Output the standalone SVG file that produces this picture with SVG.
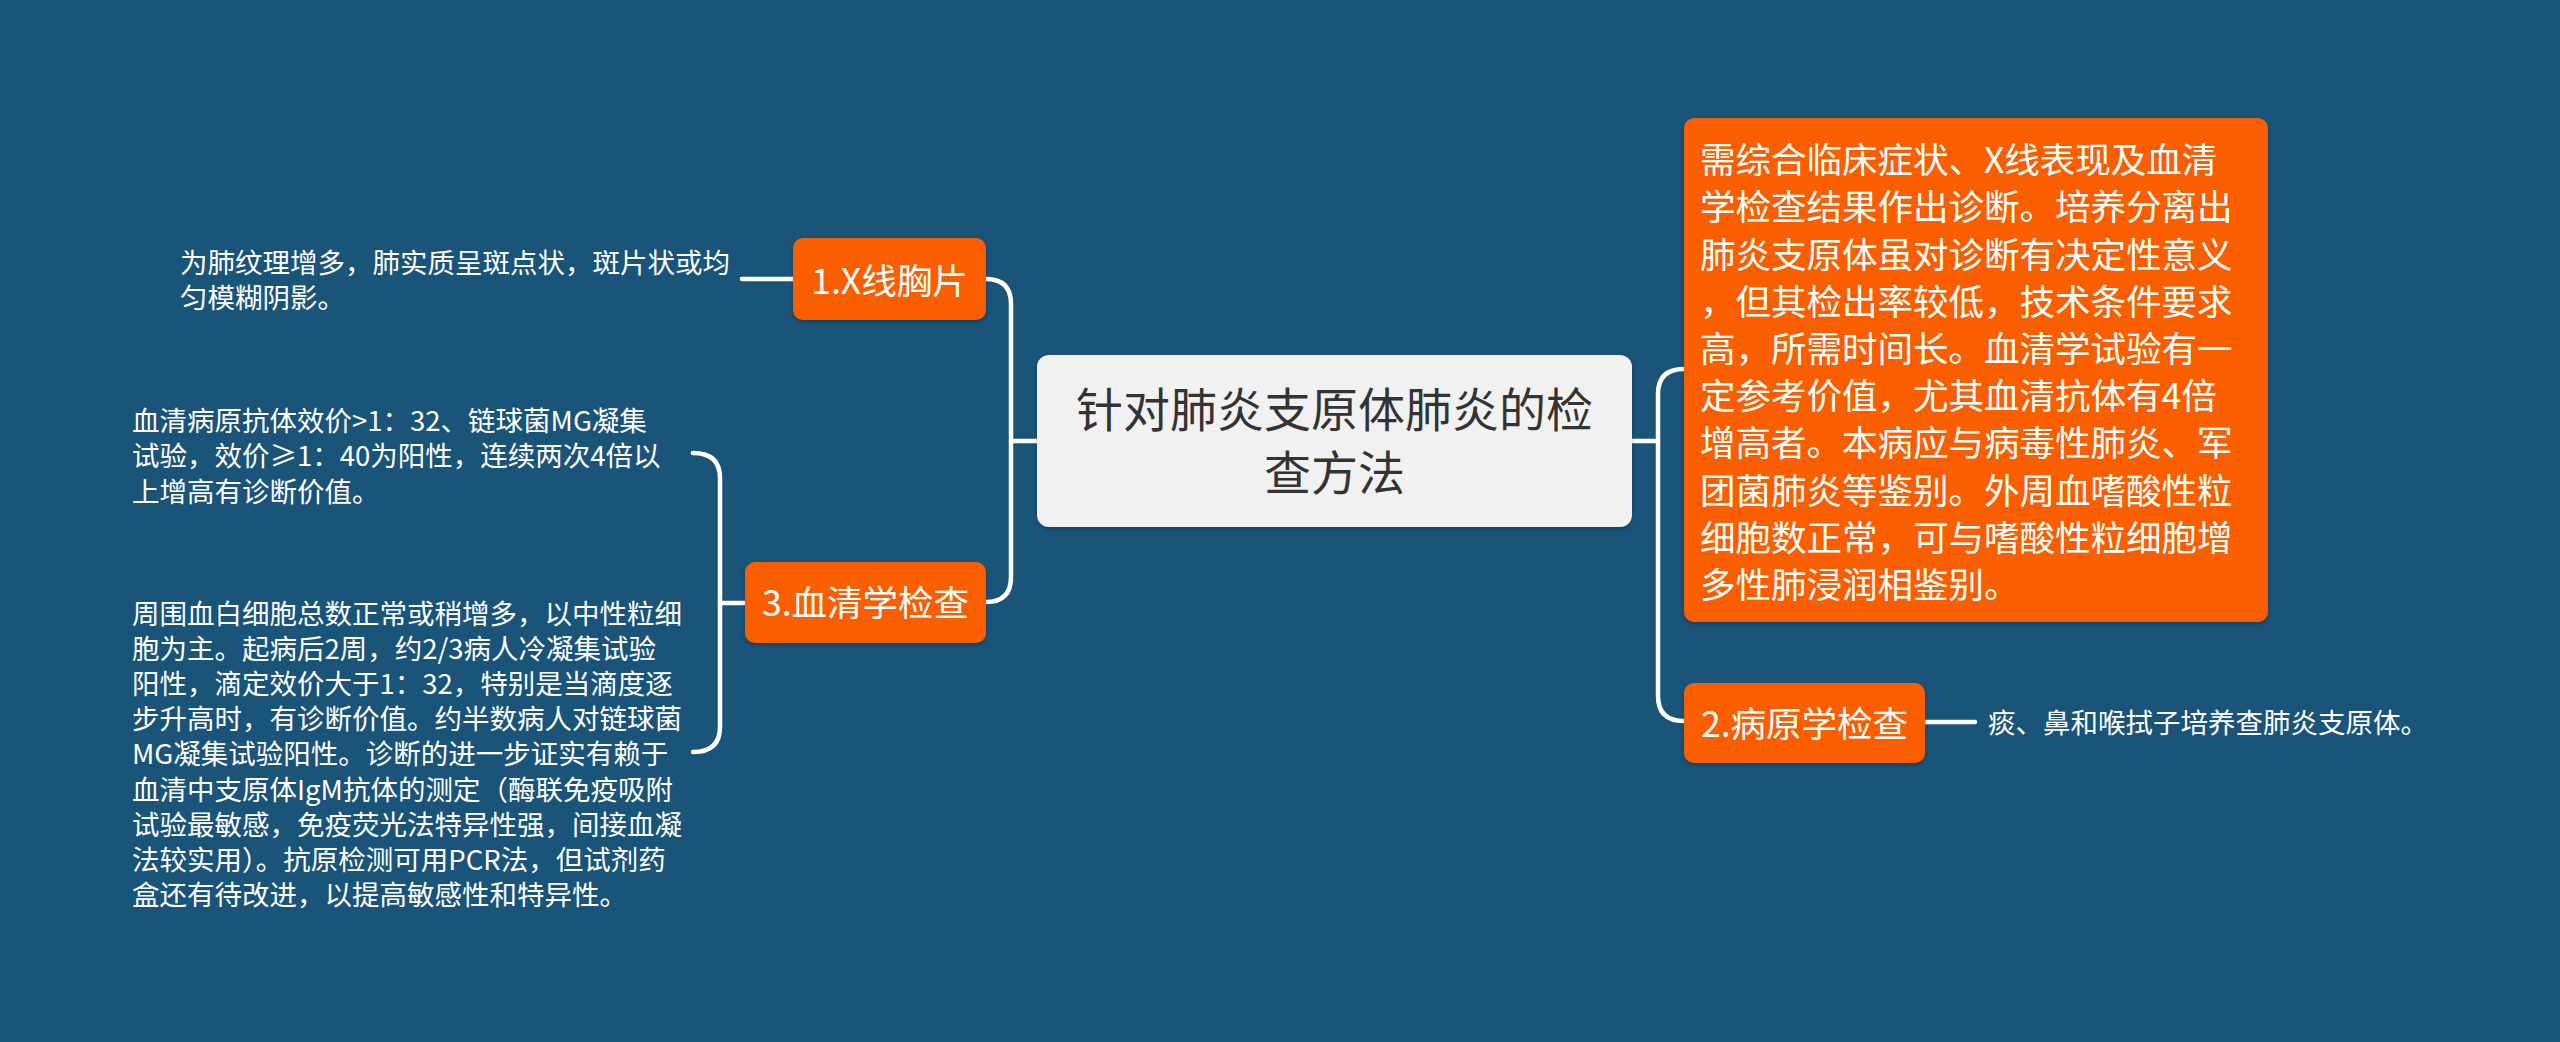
<svg xmlns="http://www.w3.org/2000/svg" width="2560" height="1042" viewBox="0 0 2560 1042">
<defs>
<style>
text{font-family:"Noto Sans CJK SC","Noto Sans",sans-serif;}
.root{fill:#f1f1f1;}
.main{fill:#f95f04;}
.rt{font-size:47px;fill:#333333;text-anchor:middle;}
.mt{font-size:35.5px;fill:#ffffff;}
.mc{text-anchor:middle;}
.lt{font-size:27.5px;fill:#ffffff;}
.conn path{fill:none;stroke:#ffffff;stroke-width:4.5;stroke-linecap:round;}
</style>
<filter id="sh" x="-10%" y="-10%" width="120%" height="130%">
<feDropShadow dx="0" dy="2" stdDeviation="2" flood-color="#000000" flood-opacity="0.25"/>
</filter>
</defs>
<rect x="0" y="0" width="2560" height="1042" fill="#1a5479"/>
<g class="conn" id="connectors">
<path d="M986,279 Q1011,279 1011,304 V577 Q1011,602 986,602"/>
<path d="M1011,441 H1037"/>
<path d="M1684,369 Q1658,369 1658,394 V696 Q1658,721 1684,721"/>
<path d="M1632,441 H1658"/>
<path d="M693,453 Q720,453 720,478 V727 Q720,752 693,752"/>
<path d="M720,603 H746"/>
<path d="M742,279 H793"/>
<path d="M1925,722 H1975"/>
</g>
<g id="root">
<rect class="root" x="1037" y="355" width="595" height="172" rx="12" filter="url(#sh)"/>
<text class="rt"><tspan x="1334.5" y="427">针对肺炎支原体肺炎的检</tspan><tspan x="1334.5" y="490">查方法</tspan></text>
</g>
<g id="n1">
<rect class="main" x="793" y="238" width="193" height="82" rx="10" filter="url(#sh)"/>
<text class="mt mc" x="889.5" y="293.5">1.X线胸片</text>
</g>
<g id="n1-leaf">
<text class="lt"><tspan x="180" y="272.5">为肺纹理增多，肺实质呈斑点状，斑片状或均</tspan><tspan x="180" y="307.5">匀模糊阴影。</tspan></text>
</g>
<g id="n3">
<rect class="main" x="745" y="562" width="241" height="81" rx="10" filter="url(#sh)"/>
<text class="mt mc" x="865.5" y="615.5">3.血清学检查</text>
</g>
<g id="n3-leaf1">
<text class="lt"><tspan x="132" y="430.5">血清病原抗体效价&gt;1：32、链球菌MG凝集</tspan><tspan x="132" y="466">试验，效价≥1：40为阳性，连续两次4倍以</tspan><tspan x="132" y="501.5">上增高有诊断价值。</tspan></text>
</g>
<g id="n3-leaf2">
<text class="lt"><tspan x="132" y="623.5">周围血白细胞总数正常或稍增多，以中性粒细</tspan><tspan x="132" y="658.7">胞为主。起病后2周，约2/3病人冷凝集试验</tspan><tspan x="132" y="693.9">阳性，滴定效价大于1：32，特别是当滴度逐</tspan><tspan x="132" y="729.1">步升高时，有诊断价值。约半数病人对链球菌</tspan><tspan x="132" y="764.3">MG凝集试验阳性。诊断的进一步证实有赖于</tspan><tspan x="132" y="799.5">血清中支原体IgM抗体的测定（酶联免疫吸附</tspan><tspan x="132" y="834.7">试验最敏感，免疫荧光法特异性强，间接血凝</tspan><tspan x="132" y="869.9">法较实用）。抗原检测可用PCR法，但试剂药</tspan><tspan x="132" y="905.1">盒还有待改进，以提高敏感性和特异性。</tspan></text>
</g>
<g id="n-diag">
<rect class="main" x="1684" y="118" width="584" height="504" rx="10" filter="url(#sh)"/>
<text class="mt"><tspan x="1700" y="173.1">需综合临床症状、X线表现及血清</tspan><tspan x="1700" y="220.3">学检查结果作出诊断。培养分离出</tspan><tspan x="1700" y="267.5">肺炎支原体虽对诊断有决定性意义</tspan><tspan x="1700" y="314.7">，但其检出率较低，技术条件要求</tspan><tspan x="1700" y="361.9">高，所需时间长。血清学试验有一</tspan><tspan x="1700" y="409.1">定参考价值，尤其血清抗体有4倍</tspan><tspan x="1700" y="456.3">增高者。本病应与病毒性肺炎、军</tspan><tspan x="1700" y="503.5">团菌肺炎等鉴别。外周血嗜酸性粒</tspan><tspan x="1700" y="550.7">细胞数正常，可与嗜酸性粒细胞增</tspan><tspan x="1700" y="597.9">多性肺浸润相鉴别。</tspan></text>
</g>
<g id="n2">
<rect class="main" x="1684" y="683" width="241" height="80" rx="10" filter="url(#sh)"/>
<text class="mt mc" x="1804.5" y="737">2.病原学检查</text>
</g>
<g id="n2-leaf">
<text class="lt" x="1988" y="732.5">痰、鼻和喉拭子培养查肺炎支原体。</text>
</g>
</svg>
